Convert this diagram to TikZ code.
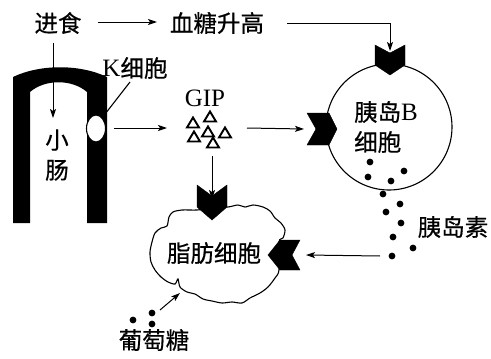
\documentclass[tikz,border=0pt]{standalone}
\usepackage{fontspec}
\setmainfont{Liberation Serif}
\newfontfamily\cjk{Noto Sans CJK SC}[FakeBold=0.6]
\usetikzlibrary{arrows.meta,shapes.geometric}
\newcommand\latn[1]{{\rmfamily\fontsize{25}{28}\selectfont #1}}
\begin{document}
\begin{tikzpicture}[x=1pt,y=-1pt,
  lbl/.style={inner sep=0pt,font=\cjk\fontsize{23.5}{27}\selectfont},
  arr/.style={line width=1pt,-{Stealth[length=9pt,width=6pt,inset=2pt]}},
  thin/.style={line width=1.1pt},
  recep/.style={fill=black,draw=black,line width=0.4pt,line join=miter},
  dotm/.style={circle,fill=black,inner sep=0pt,minimum size=6.8pt},
  tri/.style={draw=black,line width=1.9pt,line join=miter}]
\useasboundingbox (0,0) rectangle (491,359);

% small intestine: thick inverted U
\fill[black,even odd rule]
  (13,223) -- (13,77) .. controls (40,64) and (80,64) .. (107,77) -- (107,223)
  -- (87,223) -- (87,92) .. controls (72,79) and (45,79) .. (30,92) -- (30,223) -- cycle;
% K cell in the gut wall
\node[draw=black,fill=white,thin,ellipse,minimum width=19pt,minimum height=27pt,inner sep=0pt] (kcell) at (96,128.5) {};

% labels
\node[lbl] (eat) at (58,23) {进食};
\node[lbl] (bg) at (217,23) {血糖升高};
\node[lbl] (klbl) at (135,68) {\latn{K}细胞};
\node[inner sep=0pt,font=\fontsize{25}{28}\selectfont] (giplbl) at (205,98) {GIP};
\node[lbl,align=center] (gut) at (57,155) {小\\[3pt]肠};
\node[lbl] (ins) at (453,227) {胰岛素};
\node[lbl] (glc) at (154,340) {葡萄糖};

% GIP molecules
\foreach \tx/\ty [count=\i] in {193/123,210/117,208/132,194/137,225/133,213/143}
  \draw[tri] (\tx,\ty-5.5) -- (\tx+6,\ty+4.5) -- (\tx-6,\ty+4.5) -- cycle;
\coordinate (gipw) at (167,128);
\coordinate (gipe) at (247,128);
\coordinate (gips) at (212,156);

% islet B cell
\node[circle,draw=black,thin,minimum size=126pt,inner sep=0pt] (bcell) at (389,127) {};
\node[lbl,anchor=west] (blbl1) at (354,112) {胰岛\latn{B}};
\node[lbl,anchor=west] (blbl2) at (354,142) {细胞};
% receptors on the B cell
\path[recep] (375,45) -- (390,53) -- (405,45) -- (405,65) -- (390,75) -- (375,65) -- cycle;
\coordinate (rtop) at (390,51);
\path[recep] (307,113) -- (329,113) -- (337,129) -- (329,145) -- (307,145) -- (316,129) -- cycle;
\coordinate (rleft) at (314,129);

% insulin granules
\foreach \dx/\dy [count=\i] in {370/162,368/177,391/181,404/171,383/194,400/204,386/212,401/223,393/237,413/248,392/256}
  \node[dotm] (ins\i) at (\dx,\dy) {};

% adipocyte
\draw[thin,fill=white] plot[smooth cycle,tension=0.5] coordinates {
  (197,210) (182,210) (173,212) (169,217) (167,226) (161,228) (155,233)
  (152,242) (150,252) (151,262) (155,270) (161,277) (168,282) (175,284)
  (178,279) (180,287) (187,292) (195,294) (203,299) (212,301) (222,303)
  (232,302) (242,303) (250,298) (260,293) (268,287) (275,278) (279,270) (279,242)
  (283,238) (285,230) (281,223) (275,218) (270,211) (263,207) (253,205)
  (245,207) (238,205) (228,207) (212,208)};
\node[lbl] (fat) at (214,253) {脂肪细胞};
\path[recep] (197,185) -- (212,196) -- (227,185) -- (227,207) -- (212,220) -- (197,207) -- cycle;
\coordinate (ftop) at (212,193);
\path[recep] (300,240) -- (292,255) -- (300,270) -- (280,270) -- (268,255) -- (280,240) -- cycle;
\coordinate (fright) at (296,255);

% glucose
\node[dotm] (g1) at (133,320) {};
\node[dotm] (g2) at (152,313) {};
\node[dotm] (g3) at (152,324) {};
\coordinate (gtail) at (160,310);
\coordinate (ghead) at (180,293);

% connectors
\coordinate (eatr) at (98,22);
\coordinate (bgl) at (157,22);
\coordinate (bgr) at (287,23);
\coordinate (eatd) at (53,43);
\coordinate (gutin) at (53,118);
\coordinate (kout) at (114,128);
\coordinate (kline) at (130,82);
\coordinate (insl) at (380,256);

\draw[arr] (eatr) -- (bgl);
\draw[arr] (bgr) -| (rtop);
\draw[arr] (eatd) -- (gutin);
\draw[thin] (kcell.60) -- (kline);
\draw[arr] (kout) -- (gipw);
\draw[arr] (gipe) -- ([xshift=-10pt]rleft);
\draw[arr] (gips) -- ([yshift=-6pt]ftop);
\draw[arr] (insl) -- ([xshift=10pt]fright);
\draw[arr] (gtail) -- (ghead);
\end{tikzpicture}
\end{document}
